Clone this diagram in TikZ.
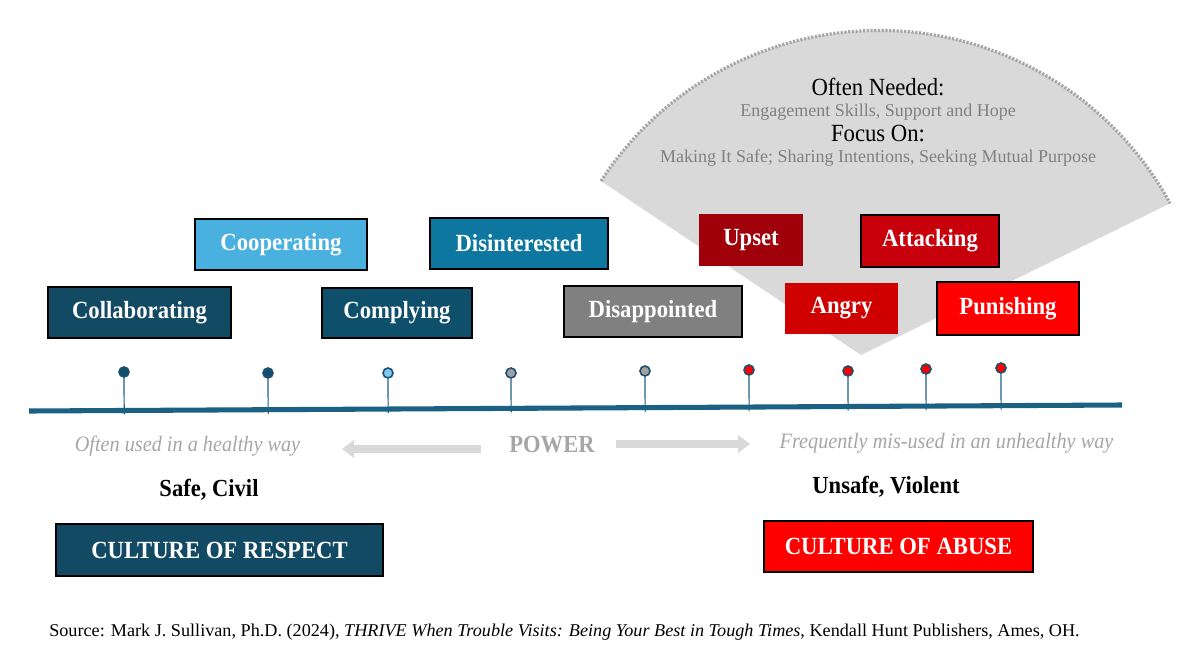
\documentclass[tikz,border=0pt]{standalone}
\usepackage{fontspec}
\setmainfont{Liberation Serif}[FakeStretch=0.92]
\newfontfamily\subfam{Liberation Serif}
\usetikzlibrary{calc,arrows.meta}
\definecolor{navy}{HTML}{134A63}
\definecolor{complyblue}{HTML}{0E4F6B}
\definecolor{coopblue}{HTML}{4AB0E0}
\definecolor{disintblue}{HTML}{0E77A0}
\definecolor{disappgrey}{HTML}{808080}
\definecolor{upsetred}{HTML}{A00009}
\definecolor{attackred}{HTML}{C8000B}
\definecolor{angryred}{HTML}{D00000}
\definecolor{punred}{HTML}{FF0000}
\definecolor{arcgrey}{HTML}{D9D9D9}
\definecolor{arcborder}{HTML}{A6A6A6}
\definecolor{subgrey}{HTML}{808080}
\definecolor{lightgreytext}{HTML}{A6A6A6}
\definecolor{tlblue}{HTML}{1B6184}
\definecolor{dotnavy}{HTML}{134E6F}
\definecolor{dotborder}{HTML}{1B5070}
\definecolor{dotlight}{HTML}{7FC8EE}
\definecolor{dotgrey}{HTML}{A0A0A0}
\tikzset{
  sz/.style 2 args={minimum width=#1*0.75pt, minimum height=#2*0.75pt},
  stbox/.style={draw=black, line width=0.9pt, inner sep=0pt, text=white,
    font=\bfseries\fontsize{18.5}{20}\selectfont},
  nobox/.style={inner sep=0pt, text=white,
    font=\bfseries\fontsize{18.5}{20}\selectfont},
  dotn/.style={circle, draw=dotborder, line width=1.2pt, minimum size=7.5pt, inner sep=0pt},
  stem/.style={draw=tlblue, line width=0.9pt},
  headtxt/.style={font=\fontsize{18.5}{20}\selectfont, text=black, inner sep=0pt, anchor=base},
  subtxt/.style={font=\subfam\fontsize{13.5}{15}\selectfont, text=subgrey, inner sep=0pt, anchor=base},
  sidetxt/.style={font=\itshape\fontsize{16.5}{18}\selectfont, text=lightgreytext, inner sep=0pt},
  blacklbl/.style={font=\bfseries\fontsize{18.4}{20}\selectfont, text=black, inner sep=0pt},
  powarrow/.style={draw=arcgrey, line width=6pt, -{Triangle[length=9pt, width=13pt]}},
}
\begin{document}
\begin{tikzpicture}[x=0.75pt,y=0.75pt]
\useasboundingbox (0,0) rectangle (1188,-664);
% sector
\coordinate (apex) at (861,-355);
\coordinate (arcL) at (601,-181);
\fill[arcgrey] (apex) -- (arcL) arc[start angle=146.9, end angle=28.6, radius=331.7] -- cycle;
\draw[arcborder, line width=2.4pt, dash pattern=on 1.6pt off 1.2pt] (arcL) arc[start angle=146.9, end angle=28.6, radius=331.7];
% arc texts
\node[headtxt] (need) at (878,-95) {Often Needed:};
\node[subtxt] (needs) at (878,-116) {Engagement Skills, Support and Hope};
\node[headtxt] (focus) at (878,-141.5) {Focus On:};
\node[subtxt] (focuss) at (878,-162.5) {Making It Safe; Sharing Intentions, Seeking Mutual Purpose};
% boxes
\node[stbox, fill=navy, sz={183}{51}] (collab) at (139.5,-312.5) {Collaborating};
\node[stbox, fill=coopblue, sz={172}{51}] (coop) at (281,-244.5) {Cooperating};
\node[stbox, fill=complyblue, sz={150}{50}] (comply) at (397,-313) {Complying};
\node[stbox, fill=disintblue, sz={178}{51}] (disint) at (519,-243.5) {Disinterested};
\node[stbox, fill=disappgrey, sz={178}{51}] (disapp) at (653,-311.5) {Disappointed};
\node[nobox, fill=upsetred, sz={104}{52}] (upset) at (751,-240) {Upset};
\node[stbox, fill=attackred, sz={138}{52}] (attack) at (930,-241) {Attacking};
\node[nobox, fill=angryred, sz={113}{51}] (angry) at (841.5,-308.5) {Angry};
\node[stbox, fill=punred, sz={142}{53}] (punish) at (1008,-308.5) {Punishing};
% timeline
\coordinate (L1) at (29,-411);
\coordinate (L2) at (1122,-405);
\draw[tlblue, line width=3.8pt] (L1) -- (L2);
\foreach \n/\x/\y/\c in {d1/124/372/dotnavy, d2/268/373/dotnavy, d3/388/373/dotlight,
  d4/511/373/dotgrey, d5/645/371/dotgrey, d6/749/370/punred, d7/848/371/punred,
  d8/926/369/punred, d9/1001/368/punred}{
  \node[dotn, fill=\c] (\n) at (\x,-\y) {};
  \draw[stem] (\n.south) -- ($($(L1)!(\n)!(L2)$)+(0,-4)$);
}
% power row
\node[sidetxt] (healthy) at (187.5,-446) {Often used in a healthy way};
\node[font=\bfseries\fontsize{18.4}{20}\selectfont, text=lightgreytext, inner sep=0pt] (power) at (552,-445) {POWER};
\coordinate (laS) at (481,-449);
\coordinate (laE) at (342,-449);
\coordinate (raS) at (616,-444);
\coordinate (raE) at (750,-444);
\draw[powarrow] (laS) -- (laE);
\draw[powarrow] (raS) -- (raE);
\node[sidetxt] (unhealthy) at (946.5,-443) {Frequently mis-used in an unhealthy way};
% outcome labels
\node[blacklbl] (safe) at (209,-490) {Safe, Civil};
\node[blacklbl] (unsafe) at (886,-487) {Unsafe, Violent};
\node[stbox, fill=navy, sz={327}{52}] (respect) at (219.5,-550) {CULTURE OF RESPECT};
\node[stbox, fill=punred, sz={269}{51}] (abuse) at (898.5,-546.5) {CULTURE OF ABUSE};
% source
\node[anchor=west, inner sep=0pt, font=\fontsize{13.5}{15}\selectfont] (source) at (49,-632)
  {\scalebox{1.098}[1]{Source: Mark J. Sullivan, Ph.D. (2024), \textit{THRIVE When Trouble Visits: Being Your Best in Tough Times}, Kendall Hunt Publishers, Ames, OH.}};
\end{tikzpicture}
\end{document}
